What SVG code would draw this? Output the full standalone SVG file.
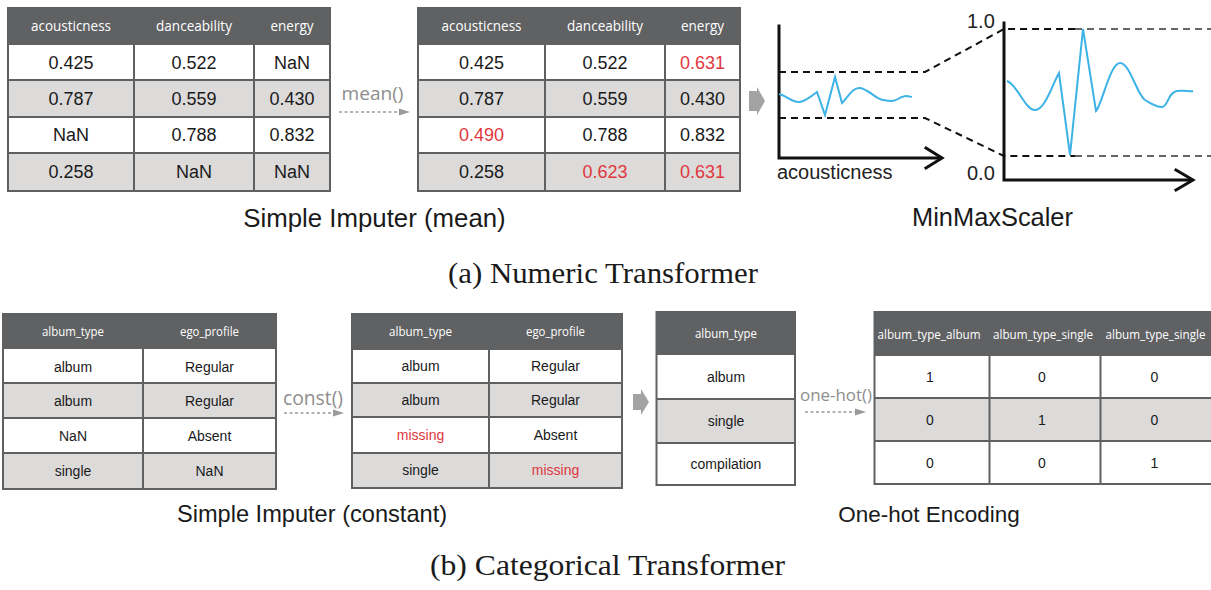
<svg xmlns="http://www.w3.org/2000/svg" width="1211" height="590" viewBox="0 0 1211 590">
  <style>
    .hdr { fill: #606163; }
    .wh { fill: #ffffff; }
    .gr { fill: #dcdbda; }
    .frame { fill: none; stroke: #5f6062; stroke-width: 2; }
    .grid { stroke: #5f6062; stroke-width: 2; }
    .ht { font-family: "Open Sans", "DejaVu Sans", sans-serif; fill: #ffffff; text-anchor: middle; }
    .ht1 { font-size: 15px; }
    .ht2 { font-size: 13.5px; }
    .bt { font-family: "Liberation Sans", Arial, sans-serif; fill: #1a1a1a; text-anchor: middle; }
    .bt1 { font-size: 18px; }
    .bt2 { font-size: 14px; }
    .red { fill: #e0373d; }
    .op { font-family: "Open Sans", "DejaVu Sans", sans-serif; fill: #8e8e8e; text-anchor: middle; }
    .dash { stroke: #9a9a9a; stroke-width: 1.3; stroke-dasharray: 3 2.5; fill: none; }
    .head { fill: #9a9a9a; }
    .block { fill: #a3a3a3; }
    .cap { font-family: "Liberation Sans", Arial, sans-serif; fill: #1a1a1a; text-anchor: middle; }
    .sub { font-family: "Liberation Serif", "Times New Roman", serif; fill: #1a1a1a; text-anchor: middle; font-size: 29px; }
    .axis { stroke: #111; stroke-width: 3; fill: none; stroke-linecap: square; }
    .guide { stroke: #111; stroke-width: 2; stroke-dasharray: 7 5; fill: none; }
    .guide2 { stroke: #666; stroke-width: 2; stroke-dasharray: 7 5; fill: none; }
    .sig { stroke: #3cb2e6; stroke-width: 2; fill: none; stroke-linejoin: miter; }
    .lbl { font-family: "Liberation Sans", Arial, sans-serif; fill: #222; font-size: 20px; }
  </style>

  <!-- numeric input table -->
  <g id="num-input">
    <rect class="hdr" x="8" y="8" width="322" height="37"/>
    <rect class="wh" x="8" y="45" width="322" height="35"/>
    <rect class="gr" x="8" y="80" width="322" height="37"/>
    <rect class="wh" x="8" y="117" width="322" height="36"/>
    <rect class="gr" x="8" y="153" width="322" height="38"/>
    <line class="grid" x1="8" y1="80" x2="330" y2="80"/>
    <line class="grid" x1="8" y1="117" x2="330" y2="117"/>
    <line class="grid" x1="8" y1="153" x2="330" y2="153"/>
    <line class="grid" x1="134" y1="45" x2="134" y2="191"/>
    <line class="grid" x1="254" y1="45" x2="254" y2="191"/>
    <rect class="frame" x="8" y="8" width="322" height="183"/>
    <text class="ht ht1" x="71" y="31" textLength="80" lengthAdjust="spacingAndGlyphs">acousticness</text>
    <text class="ht ht1" x="194" y="31" textLength="76" lengthAdjust="spacingAndGlyphs">danceability</text>
    <text class="ht ht1" x="292" y="31" textLength="43" lengthAdjust="spacingAndGlyphs">energy</text>
    <text class="bt bt1" x="71" y="69">0.425</text>
    <text class="bt bt1" x="194" y="69">0.522</text>
    <text class="bt bt1" x="292" y="69">NaN</text>
    <text class="bt bt1" x="71" y="105">0.787</text>
    <text class="bt bt1" x="194" y="105">0.559</text>
    <text class="bt bt1" x="292" y="105">0.430</text>
    <text class="bt bt1" x="71" y="141">NaN</text>
    <text class="bt bt1" x="194" y="141">0.788</text>
    <text class="bt bt1" x="292" y="141">0.832</text>
    <text class="bt bt1" x="71" y="178">0.258</text>
    <text class="bt bt1" x="194" y="178">NaN</text>
    <text class="bt bt1" x="292" y="178">NaN</text>
  </g>

  <!-- numeric imputed table -->
  <g id="num-imputed">
    <rect class="hdr" x="418" y="8" width="322" height="37"/>
    <rect class="wh" x="418" y="45" width="322" height="35"/>
    <rect class="gr" x="418" y="80" width="322" height="37"/>
    <rect class="wh" x="418" y="117" width="322" height="36"/>
    <rect class="gr" x="418" y="153" width="322" height="38"/>
    <line class="grid" x1="418" y1="80" x2="740" y2="80"/>
    <line class="grid" x1="418" y1="117" x2="740" y2="117"/>
    <line class="grid" x1="418" y1="153" x2="740" y2="153"/>
    <line class="grid" x1="545" y1="45" x2="545" y2="191"/>
    <line class="grid" x1="665" y1="45" x2="665" y2="191"/>
    <rect class="frame" x="418" y="8" width="322" height="183"/>
    <text class="ht ht1" x="481.5" y="31" textLength="80" lengthAdjust="spacingAndGlyphs">acousticness</text>
    <text class="ht ht1" x="605" y="31" textLength="76" lengthAdjust="spacingAndGlyphs">danceability</text>
    <text class="ht ht1" x="702.5" y="31" textLength="43" lengthAdjust="spacingAndGlyphs">energy</text>
    <text class="bt bt1" x="481.5" y="69">0.425</text>
    <text class="bt bt1" x="605" y="69">0.522</text>
    <text class="bt bt1 red" x="702.5" y="69">0.631</text>
    <text class="bt bt1" x="481.5" y="105">0.787</text>
    <text class="bt bt1" x="605" y="105">0.559</text>
    <text class="bt bt1" x="702.5" y="105">0.430</text>
    <text class="bt bt1 red" x="481.5" y="141">0.490</text>
    <text class="bt bt1" x="605" y="141">0.788</text>
    <text class="bt bt1" x="702.5" y="141">0.832</text>
    <text class="bt bt1" x="481.5" y="178">0.258</text>
    <text class="bt bt1 red" x="605" y="178">0.623</text>
    <text class="bt bt1 red" x="702.5" y="178">0.631</text>
  </g>

  <!-- min-max scaling sketch -->
  <g id="minmax-plot">
    <path class="guide" d="M779,72 H925 L1004,29 H1075"/>
    <path class="guide2" d="M1075,29 H1211"/>
    <path class="guide" d="M779,118 H925 L1004,156 H1075"/>
    <path class="guide2" d="M1075,156 H1211"/>
    <path class="axis" d="M779,26 V158 H940"/>
    <path class="axis" d="M926,148 L942,158 L926,168"/>
    <path class="axis" d="M1004,23 V180 H1191"/>
    <path class="axis" d="M1176,170 L1193,180 L1176,190"/>
    <path class="sig" d="M779,94 C786,95 792,103 800,102 C806,101 812,96 817,92 L825,115 L835,77 L842,103 C848,97 853,87 860,88 C868,89 876,99 883,100 C889,101 893,102 898,99 C903,95 907,96 912,97"/>
    <path class="sig" d="M1007,81 C1017,84 1025,110 1035,110 C1045,110 1052,85 1059,73 L1070,155 L1083,29 L1096,111 C1102,105 1110,63 1120,63 C1130,63 1137,95 1145,100 C1152,104 1156,107 1162,107 C1168,107 1168,92 1177,91 C1185,90 1190,92 1193,91"/>
    <text class="lbl" x="777" y="179">acousticness</text>
    <text class="lbl" x="967" y="28">1.0</text>
    <text class="lbl" x="967" y="180">0.0</text>
  </g>

  <!-- categorical input table -->
  <g id="cat-input">
    <rect class="hdr" x="3" y="314" width="273" height="35"/>
    <rect class="wh" x="3" y="349" width="273" height="34"/>
    <rect class="gr" x="3" y="383" width="273" height="35"/>
    <rect class="wh" x="3" y="418" width="273" height="35"/>
    <rect class="gr" x="3" y="453" width="273" height="36"/>
    <line class="grid" x1="3" y1="383" x2="276" y2="383"/>
    <line class="grid" x1="3" y1="418" x2="276" y2="418"/>
    <line class="grid" x1="3" y1="453" x2="276" y2="453"/>
    <line class="grid" x1="143" y1="349" x2="143" y2="489"/>
    <rect class="frame" x="3" y="314" width="273" height="175"/>
    <text class="ht ht2" x="73" y="336" textLength="62" lengthAdjust="spacingAndGlyphs">album_type</text>
    <text class="ht ht2" x="209.5" y="336" textLength="59" lengthAdjust="spacingAndGlyphs">ego_profile</text>
    <text class="bt bt2" x="73" y="371.5">album</text>
    <text class="bt bt2" x="209.5" y="371.5">Regular</text>
    <text class="bt bt2" x="73" y="406">album</text>
    <text class="bt bt2" x="209.5" y="406">Regular</text>
    <text class="bt bt2" x="73" y="441">NaN</text>
    <text class="bt bt2" x="209.5" y="441">Absent</text>
    <text class="bt bt2" x="73" y="476">single</text>
    <text class="bt bt2" x="209.5" y="476">NaN</text>
  </g>

  <!-- categorical imputed table -->
  <g id="cat-imputed">
    <rect class="hdr" x="352" y="314" width="270" height="36"/>
    <rect class="wh" x="352" y="350" width="270" height="33"/>
    <rect class="gr" x="352" y="383" width="270" height="34"/>
    <rect class="wh" x="352" y="417" width="270" height="36"/>
    <rect class="gr" x="352" y="453" width="270" height="35"/>
    <line class="grid" x1="352" y1="383" x2="622" y2="383"/>
    <line class="grid" x1="352" y1="417" x2="622" y2="417"/>
    <line class="grid" x1="352" y1="453" x2="622" y2="453"/>
    <line class="grid" x1="489" y1="350" x2="489" y2="488"/>
    <rect class="frame" x="352" y="314" width="270" height="174"/>
    <text class="ht ht2" x="420.5" y="336" textLength="63" lengthAdjust="spacingAndGlyphs">album_type</text>
    <text class="ht ht2" x="555.5" y="336" textLength="59" lengthAdjust="spacingAndGlyphs">ego_profile</text>
    <text class="bt bt2" x="420.5" y="371">album</text>
    <text class="bt bt2" x="555.5" y="371">Regular</text>
    <text class="bt bt2" x="420.5" y="405">album</text>
    <text class="bt bt2" x="555.5" y="405">Regular</text>
    <text class="bt bt2 red" x="420.5" y="440">missing</text>
    <text class="bt bt2" x="555.5" y="440">Absent</text>
    <text class="bt bt2" x="420.5" y="475">single</text>
    <text class="bt bt2 red" x="555.5" y="475">missing</text>
  </g>

  <!-- category list -->
  <g id="cat-values">
    <rect class="hdr" x="656.5" y="312" width="138.5" height="43"/>
    <rect class="wh" x="656.5" y="355" width="138.5" height="44"/>
    <rect class="gr" x="656.5" y="399" width="138.5" height="44"/>
    <rect class="wh" x="656.5" y="443" width="138.5" height="42"/>
    <line class="grid" x1="656.5" y1="399" x2="795" y2="399"/>
    <line class="grid" x1="656.5" y1="443" x2="795" y2="443"/>
    <rect class="frame" x="656.5" y="312" width="138.5" height="173"/>
    <text class="ht ht2" x="726" y="338" textLength="62" lengthAdjust="spacingAndGlyphs">album_type</text>
    <text class="bt bt2" x="726" y="382">album</text>
    <text class="bt bt2" x="726" y="426">single</text>
    <text class="bt bt2" x="726" y="469">compilation</text>
  </g>

  <!-- one-hot table -->
  <g id="onehot-table">
    <rect class="hdr" x="874.5" y="312" width="340" height="44"/>
    <rect class="wh" x="874.5" y="356" width="340" height="42"/>
    <rect class="gr" x="874.5" y="398" width="340" height="43"/>
    <rect class="wh" x="874.5" y="441" width="340" height="43"/>
    <line class="grid" x1="874.5" y1="398" x2="1215" y2="398"/>
    <line class="grid" x1="874.5" y1="441" x2="1215" y2="441"/>
    <line class="grid" x1="989.5" y1="356" x2="989.5" y2="484"/>
    <line class="grid" x1="1100.5" y1="356" x2="1100.5" y2="484"/>
    <rect class="frame" x="874.5" y="312" width="340" height="172"/>
    <text class="ht ht2" x="929" y="339" textLength="103" lengthAdjust="spacingAndGlyphs">album_type_album</text>
    <text class="ht ht2" x="1043" y="339" textLength="100" lengthAdjust="spacingAndGlyphs">album_type_single</text>
    <text class="ht ht2" x="1155.5" y="339" textLength="100" lengthAdjust="spacingAndGlyphs">album_type_single</text>
    <text class="bt bt2" x="930" y="382">1</text>
    <text class="bt bt2" x="1042" y="382">0</text>
    <text class="bt bt2" x="1154.5" y="382">0</text>
    <text class="bt bt2" x="930" y="425">0</text>
    <text class="bt bt2" x="1042" y="425">1</text>
    <text class="bt bt2" x="1154.5" y="425">0</text>
    <text class="bt bt2" x="930" y="468">0</text>
    <text class="bt bt2" x="1042" y="468">0</text>
    <text class="bt bt2" x="1154.5" y="468">1</text>
  </g>

  <!-- transformation arrows -->
  <g id="connectors">
    <text class="op" x="372.5" y="100" font-size="18" textLength="62" lengthAdjust="spacingAndGlyphs">mean()</text>
    <line class="dash" x1="339" y1="112" x2="400" y2="112"/>
    <polygon class="head" points="399,108.5 410,112 399,115.5"/>

    <polygon class="block" points="749,91 757,91 757,87 765,101 757,115 757,111 749,111"/>

    <text class="op" x="313" y="405" font-size="20" textLength="60" lengthAdjust="spacingAndGlyphs">const()</text>
    <line class="dash" x1="284" y1="413" x2="335" y2="413"/>
    <polygon class="head" points="333,409.5 344,413 333,416.5"/>

    <polygon class="block" points="633,394 641,394 641,389 649,402 641,415 641,410 633,410"/>

    <text class="op" x="836" y="401" font-size="17" textLength="72" lengthAdjust="spacingAndGlyphs">one-hot()</text>
    <line class="dash" x1="805" y1="412" x2="856" y2="412"/>
    <polygon class="head" points="855,408.5 866,412 855,415.5"/>
  </g>

  <!-- captions -->
  <g id="captions">
    <text class="cap" x="374.5" y="227" font-size="25.8">Simple Imputer (mean)</text>
    <text class="cap" x="992.5" y="226" font-size="25.4">MinMaxScaler</text>
    <text class="sub" x="603" y="283" textLength="310" lengthAdjust="spacingAndGlyphs">(a) Numeric Transformer</text>
    <text class="cap" x="312" y="522" font-size="23.6">Simple Imputer (constant)</text>
    <text class="cap" x="929" y="522" font-size="22.5">One-hot Encoding</text>
    <text class="sub" x="607.5" y="575" textLength="355" lengthAdjust="spacingAndGlyphs">(b) Categorical Transformer</text>
  </g>
</svg>
